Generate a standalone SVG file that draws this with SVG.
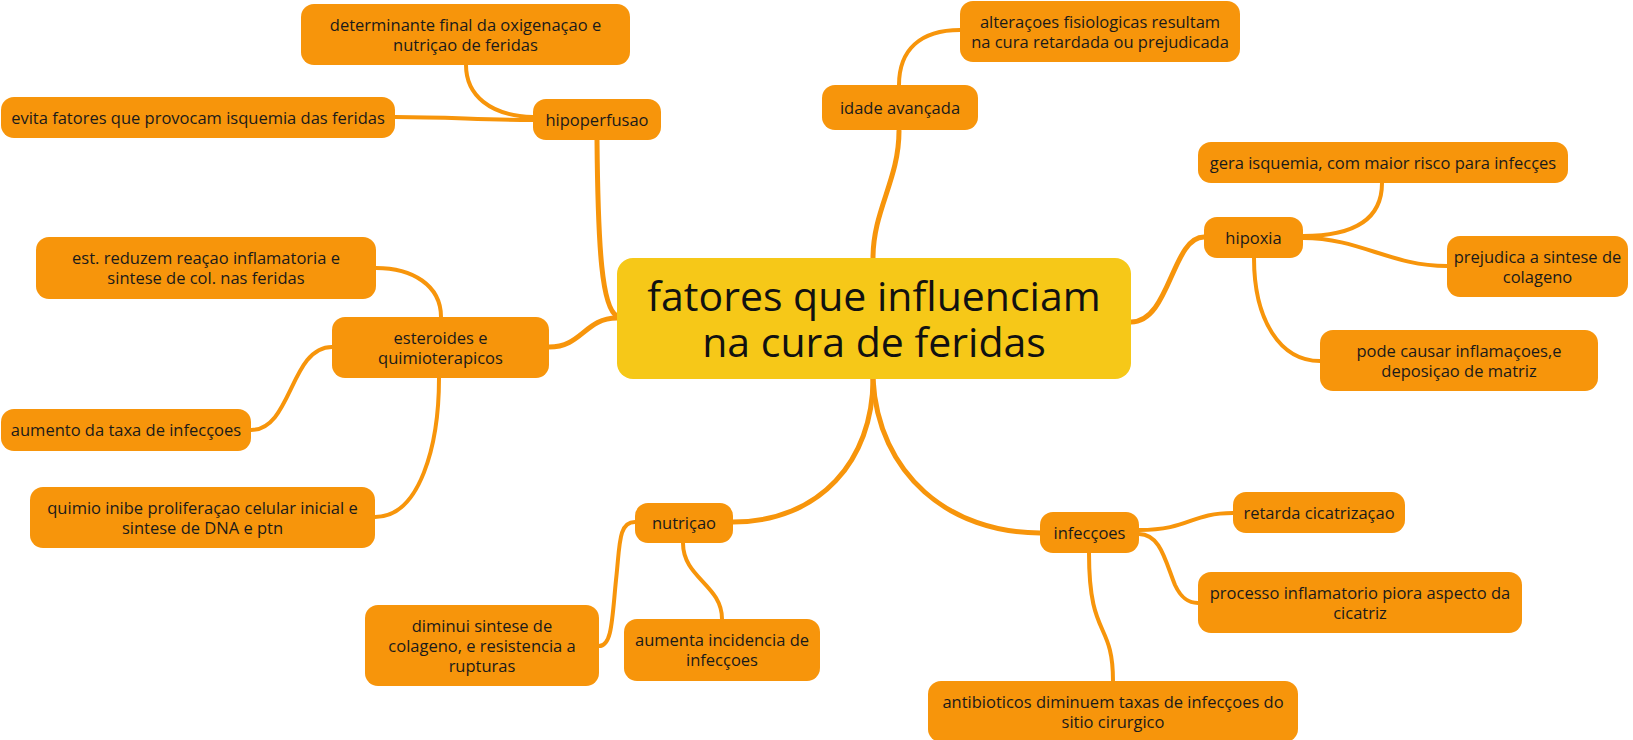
<svg xmlns="http://www.w3.org/2000/svg" width="1633" height="740" viewBox="0 0 1633 740">
<style>
.n{fill:#F7950B}
.c{fill:#F6C818}
.t{font-family:"Open Sans","Noto Sans","Liberation Sans",sans-serif;font-size:16.5px;fill:#1a1a1a;text-anchor:middle}
.tc{font-family:"Open Sans","Noto Sans","Liberation Sans",sans-serif;font-size:41px;fill:#111;text-anchor:middle}
.l{fill:none;stroke:#F7950B;stroke-width:4;stroke-linecap:round}
.lm{fill:none;stroke:#F7950B;stroke-width:5;stroke-linecap:round}
</style>
<rect width="1633" height="740" fill="#fff"/>
<g id="connectors">
<path class="lm" d="M597,140 C598,250 602,308 617,316"/>
<path class="lm" d="M549,347 C582,347 585,318 617,318"/>
<path class="lm" d="M873,379 C873,460 820,522 733,522"/>
<path class="lm" d="M873,379 C878,475 950,533 1040,533"/>
<path class="lm" d="M899,131 C899,180 873,210 873,258"/>
<path class="lm" d="M1131,322 C1170,322 1172,237 1204,237"/>
<path class="l" d="M376,268 C412,268 441,285 441,317"/>
<path class="l" d="M332,347 C290,347 292,430 251,430"/>
<path class="l" d="M439,378 C439,445 420,517 375,517"/>
<path class="l" d="M899,85 C899,50 920,30 960,30"/>
<path class="l" d="M395,117 C450,117 480,120 533,120"/>
<path class="l" d="M466,65 C466,95 490,116 533,117"/>
<path class="l" d="M1303,236 C1360,236 1382,215 1382,183"/>
<path class="l" d="M1303,238 C1360,238 1390,266 1447,266"/>
<path class="l" d="M1254,258 C1254,320 1280,361 1320,361"/>
<path class="l" d="M635,522 C618,522 620,545 616,580 C612,620 612,646 599,646"/>
<path class="l" d="M683,543 C683,578 722,585 722,619"/>
<path class="l" d="M1139,530 C1190,530 1190,513 1233,513"/>
<path class="l" d="M1139,534 C1160,534 1165,560 1175,585 C1182,600 1190,603 1198,603"/>
<path class="l" d="M1089,553 C1089,640 1113,620 1113,681"/>
</g>
<g id="central">
<rect class="c" x="617" y="258" width="514" height="121" rx="16"/>
<text class="tc" x="874" y="311">fatores que influenciam</text>
<text class="tc" x="874" y="357">na cura de feridas</text>
</g>
<g id="determinante">
<rect class="n" x="301" y="4" width="329" height="61" rx="13"/>
<text class="t" x="465.5" y="30.5">determinante final da oxigenaçao e</text>
<text class="t" x="465.5" y="50.5">nutriçao de feridas</text>
</g>
<g id="evita">
<rect class="n" x="1" y="97" width="394" height="41" rx="13"/>
<text class="t" x="198" y="123.5">evita fatores que provocam isquemia das feridas</text>
</g>
<g id="hipoperfusao">
<rect class="n" x="533" y="99" width="128" height="41" rx="13"/>
<text class="t" x="597" y="125.5">hipoperfusao</text>
</g>
<g id="idade">
<rect class="n" x="822" y="85" width="156" height="45" rx="13"/>
<text class="t" x="900" y="113.5">idade avançada</text>
</g>
<g id="alteracoes">
<rect class="n" x="960" y="1" width="280" height="61" rx="13"/>
<text class="t" x="1100" y="27.5">alteraçoes fisiologicas resultam</text>
<text class="t" x="1100" y="47.5">na cura retardada ou prejudicada</text>
</g>
<g id="gera">
<rect class="n" x="1198" y="142" width="370" height="41" rx="13"/>
<text class="t" x="1383" y="168.5">gera isquemia, com maior risco para infecçes</text>
</g>
<g id="hipoxia">
<rect class="n" x="1204" y="217" width="99" height="41" rx="13"/>
<text class="t" x="1253.5" y="243.5">hipoxia</text>
</g>
<g id="prejudica">
<rect class="n" x="1447" y="236" width="181" height="61" rx="13"/>
<text class="t" x="1537.5" y="262.5">prejudica a sintese de</text>
<text class="t" x="1537.5" y="282.5">colageno</text>
</g>
<g id="pode">
<rect class="n" x="1320" y="330" width="278" height="61" rx="13"/>
<text class="t" x="1459" y="356.5">pode causar inflamaçoes,e</text>
<text class="t" x="1459" y="376.5">deposiçao de matriz</text>
</g>
<g id="est">
<rect class="n" x="36" y="237" width="340" height="62" rx="13"/>
<text class="t" x="206" y="264">est. reduzem reaçao inflamatoria e</text>
<text class="t" x="206" y="284">sintese de col. nas feridas</text>
</g>
<g id="esteroides">
<rect class="n" x="332" y="317" width="217" height="61" rx="13"/>
<text class="t" x="440.5" y="343.5">esteroides e</text>
<text class="t" x="440.5" y="363.5">quimioterapicos</text>
</g>
<g id="aumento">
<rect class="n" x="1" y="409" width="250" height="42" rx="13"/>
<text class="t" x="126" y="436">aumento da taxa de infecçoes</text>
</g>
<g id="quimio">
<rect class="n" x="30" y="487" width="345" height="61" rx="13"/>
<text class="t" x="202.5" y="513.5">quimio inibe proliferaçao celular inicial e</text>
<text class="t" x="202.5" y="533.5">sintese de DNA e ptn</text>
</g>
<g id="nutricao">
<rect class="n" x="635" y="503" width="98" height="40" rx="13"/>
<text class="t" x="684" y="529">nutriçao</text>
</g>
<g id="diminui">
<rect class="n" x="365" y="605" width="234" height="81" rx="13"/>
<text class="t" x="482" y="631.5">diminui sintese de</text>
<text class="t" x="482" y="651.5">colageno, e resistencia a</text>
<text class="t" x="482" y="671.5">rupturas</text>
</g>
<g id="aumenta">
<rect class="n" x="624" y="619" width="196" height="62" rx="13"/>
<text class="t" x="722" y="646">aumenta incidencia de</text>
<text class="t" x="722" y="666">infecçoes</text>
</g>
<g id="infeccoes">
<rect class="n" x="1040" y="512" width="99" height="41" rx="13"/>
<text class="t" x="1089.5" y="538.5">infecçoes</text>
</g>
<g id="retarda">
<rect class="n" x="1233" y="492" width="172" height="41" rx="13"/>
<text class="t" x="1319" y="518.5">retarda cicatrizaçao</text>
</g>
<g id="processo">
<rect class="n" x="1198" y="572" width="324" height="61" rx="13"/>
<text class="t" x="1360" y="598.5">processo inflamatorio piora aspecto da</text>
<text class="t" x="1360" y="618.5">cicatriz</text>
</g>
<g id="antibioticos">
<rect class="n" x="928" y="681" width="370" height="61" rx="13"/>
<text class="t" x="1113" y="707.5">antibioticos diminuem taxas de infecçoes do</text>
<text class="t" x="1113" y="727.5">sitio cirurgico</text>
</g>
</svg>
